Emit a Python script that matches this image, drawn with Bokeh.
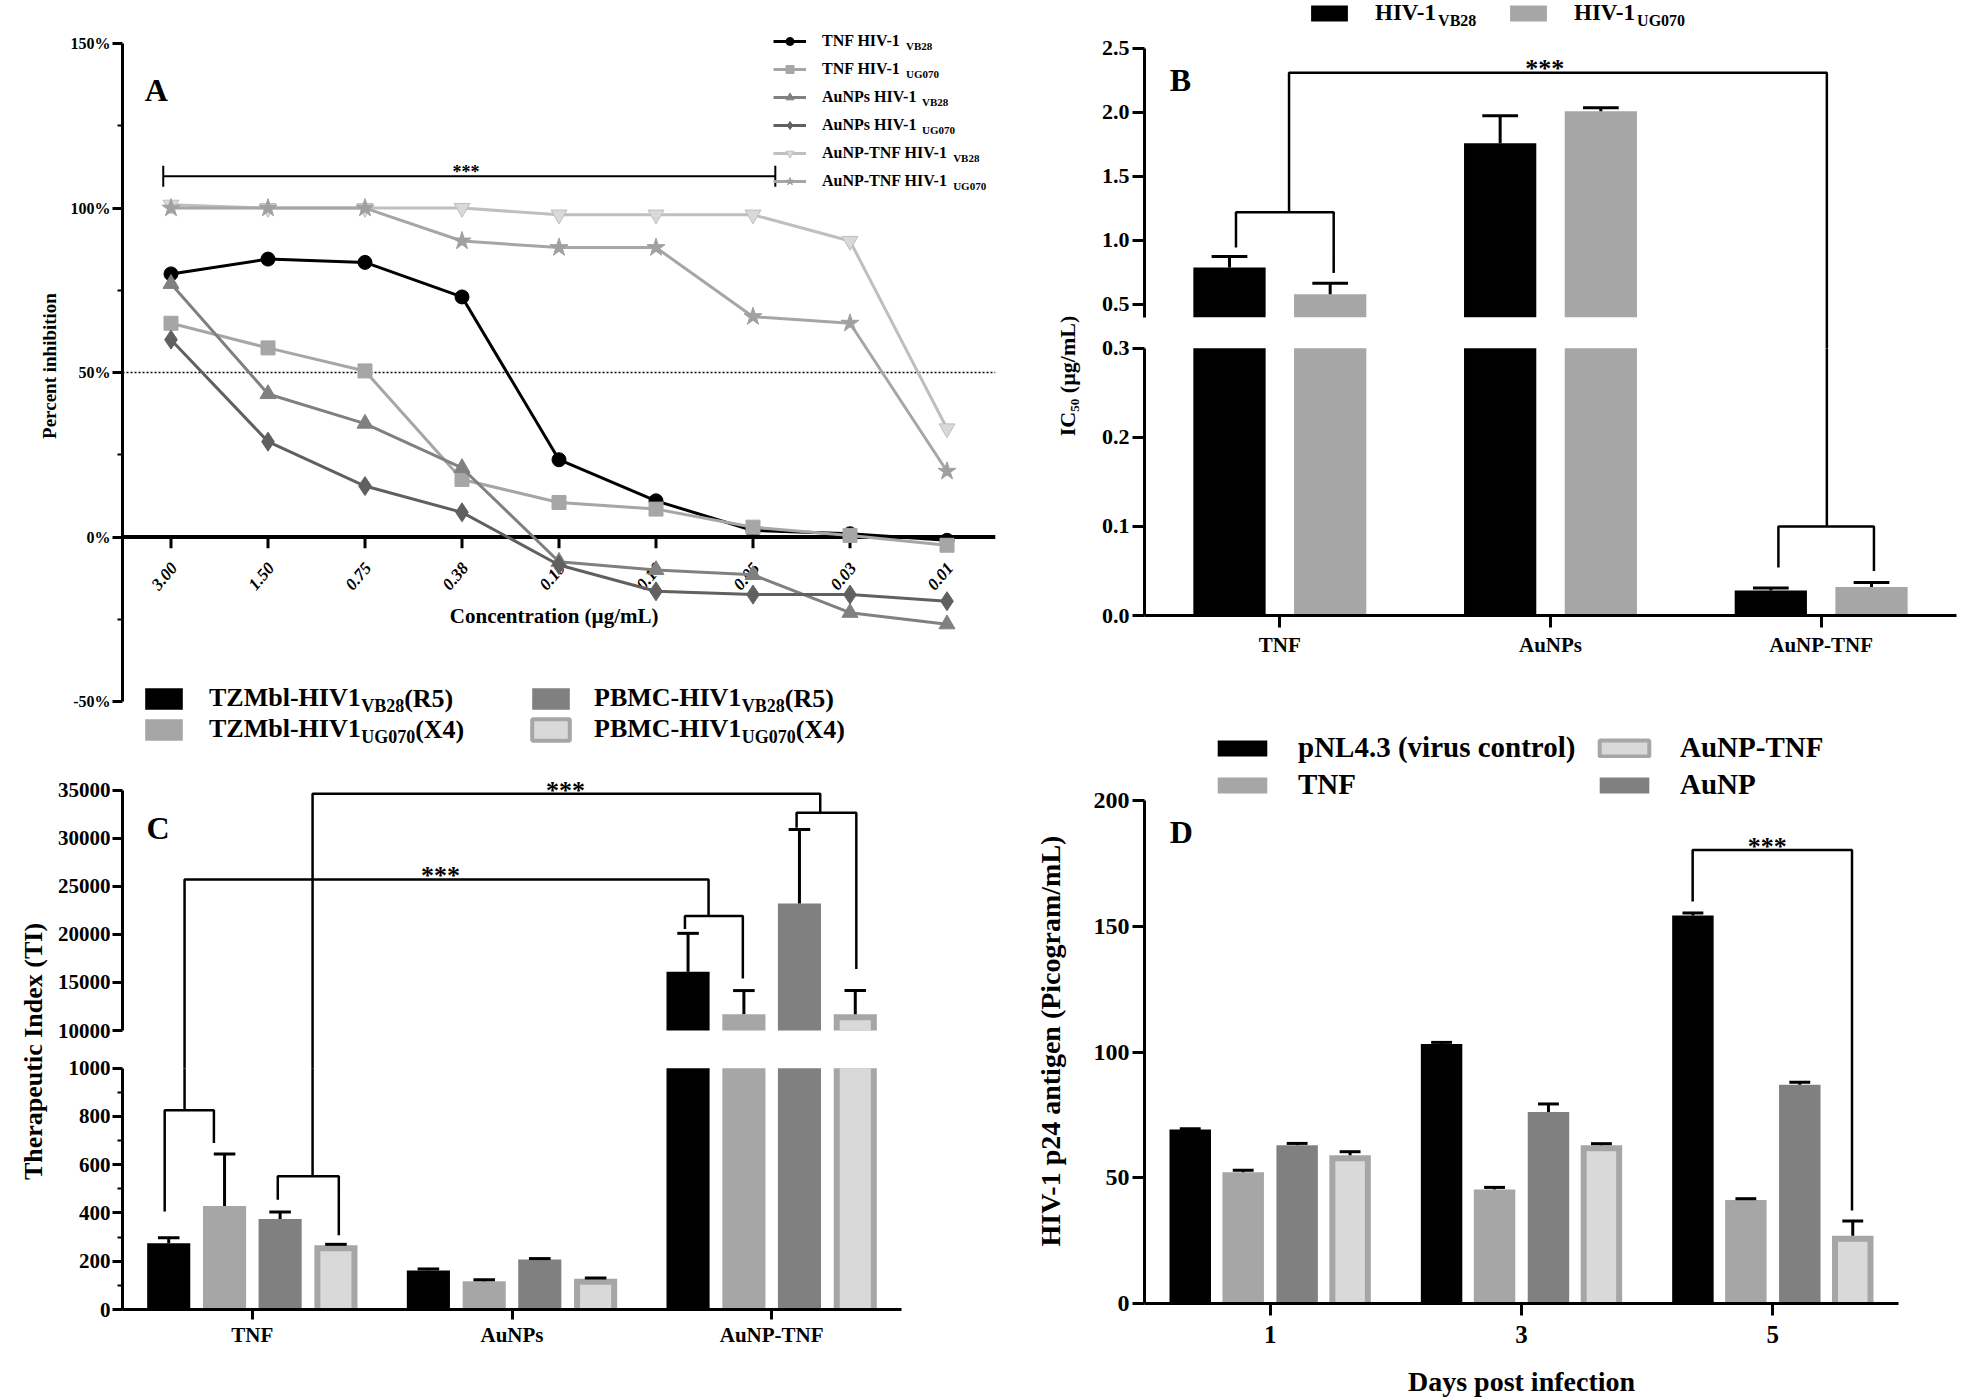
import math
import numpy as np
from bokeh.plotting import figure
from bokeh.models import (ColumnDataSource, FactorRange, Range1d, FixedTicker,
                          PrintfTickFormatter, Legend, LegendItem, Label, Span, Title)
from bokeh.layouts import row, column
from bokeh.transform import dodge
from bokeh.core.properties import value
from bokeh.embed import file_html
from bokeh.resources import INLINE

FONT = "Liberation Serif"

# ---------------- data ----------------
# Panel A : percent inhibition
conc_labels = ["3.00", "1.50", "0.75", "0.38", "0.19", "0.10", "0.05", "0.03", "0.01"]
tnf_vb28 = [80, 84.5, 83.5, 73, 23.5, 11, 2, 1, -1]
tnf_ug070 = [65, 57.5, 50.5, 17.5, 10.5, 8.5, 3, 0.5, -2.5]
aunps_vb28 = [77, 43.5, 34.5, 21, -7.5, -10, -11.5, -23, -26.5]
aunps_ug070 = [60, 29, 15.5, 7.5, -8.5, -16.5, -17.5, -17.5, -19.5]
aunptnf_vb28 = [101, 100, 100, 100, 98, 98, 98, 90, 33]
aunptnf_ug070 = [100, 100, 100, 90, 88, 88, 67, 65, 20]
a_yticks = [-50, 0, 50, 100, 150]
a_minor = [-25, 25, 75, 125]

# Panel B : IC50
treatments = ["TNF", "AuNPs", "AuNP-TNF"]
ic50_vb28 = [0.787, 1.758, 0.028]
ic50_vb28_sem = [0.086, 0.215, 0.003]
ic50_ug070 = [0.579, 2.008, 0.032]
ic50_ug070_sem = [0.086, 0.029, 0.005]

# Panel C : therapeutic index
ti_tzm_vb28 = [275, 162, 16100]
ti_tzm_vb28_sem = [22, 6, 4000]
ti_tzm_ug070 = [429, 117, 11700]
ti_tzm_ug070_sem = [215, 6, 2450]
ti_pbmc_vb28 = [375, 207, 23200]
ti_pbmc_vb28_sem = [29, 4, 7700]
ti_pbmc_ug070 = [266, 127, 11700]
ti_pbmc_ug070_sem = [4, 3, 2450]

# Panel D : p24 antigen
days = ["1", "3", "5"]
p24_pnl43 = [69.2, 103.3, 154.4]
p24_pnl43_sem = [0.3, 0.6, 1.0]
p24_tnf = [52.2, 45.4, 41.2]
p24_tnf_sem = [0.8, 0.8, 0.5]
p24_aunp = [63.0, 76.2, 87.0]
p24_aunp_sem = [0.7, 3.2, 1.0]
p24_aunptnf = [59.0, 63.0, 27.0]
p24_aunptnf_sem = [1.4, 0.6, 5.8]

BLACK, LGRAY, DGRAY, VLIGHT = "#000000", "#a6a6a6", "#808080", "#d9d9d9"

# Times-Bold advance widths (Liberation Serif is metric compatible) for subscript placement
TB = {' ': 250, '(': 333, ')': 333, '-': 333, '0': 500, '1': 500, '2': 500, '4': 500, '5': 500,
      '7': 500, '8': 500, 'A': 722, 'B': 667, 'C': 722, 'F': 611, 'G': 778, 'H': 778, 'I': 389,
      'M': 944, 'N': 722, 'P': 611, 'R': 722, 'T': 667, 'U': 722, 'V': 722, 'X': 722, 'Z': 667,
      'b': 556, 'l': 278, 's': 389, 'u': 556}


def tw(s, size):
    return sum(TB.get(c, 500) for c in s) * size / 1000.0


def fig(width, height, x_range, y_range, mb, x_axis=True):
    l, r, t, b = mb
    p = figure(width=width, height=height, x_range=x_range, y_range=y_range,
               output_backend="svg", toolbar_location=None,
               x_axis_location="below" if x_axis else None,
               min_border_left=l, min_border_right=r, min_border_top=t, min_border_bottom=b)
    p.background_fill_alpha = 0
    p.border_fill_alpha = 0
    p.outline_line_color = None
    p.grid.visible = False
    for ax in p.axis:
        ax.axis_line_width = 3
        ax.axis_line_color = "black"
        ax.major_tick_line_width = 3
        ax.minor_tick_line_width = 2
        ax.major_tick_in = 0
        ax.major_tick_out = 10
        ax.minor_tick_in = 0
        ax.minor_tick_out = 5
        ax.major_label_text_font = FONT
        ax.major_label_text_font_style = "bold"
        ax.major_label_text_color = "black"
        ax.axis_label_text_font = FONT
        ax.axis_label_text_font_style = "bold"
        ax.axis_label_text_color = "black"
    return p


def lab(p, x, y, text, size, align="center", baseline="middle", angle=0.0, units="data"):
    p.add_layout(Label(x=x, y=y, x_units=units, y_units=units, text=text,
                       text_font=FONT, text_font_style="bold", text_font_size=f"{size}px",
                       text_color="black", text_align=align, text_baseline=baseline, angle=angle))


def draw_bars(p, cats, series, offsets, width, cap, lo=None, hi_clip=None, upx=1.0, xpx=0.02):
    """upx: data units per pixel (y); xpx: category units per pixel (x)."""
    rs = []
    for (vals, sems, fill, framed), off in zip(series, offsets):
        v = np.array(vals, float)
        e = np.array(sems, float)
        if lo is not None:
            shown = v > lo
            top = np.where(shown, v, np.nan)
            inner_top = np.where(shown, v - 6 * upx, np.nan)
            bottom = lo
        elif hi_clip is not None:
            shown = v <= hi_clip
            top = np.minimum(v, hi_clip)
            inner_top = np.where(shown, v - 6 * upx, hi_clip)
            bottom = 0
        else:
            shown = np.ones(len(v), bool)
            top = v
            inner_top = v - 6 * upx
            bottom = 0
        src = ColumnDataSource(dict(cat=cats, top=top, inner_top=inner_top,
                                    val=np.where(shown, v, np.nan),
                                    hi=np.where(shown, v + e, np.nan)))
        xs = dodge("cat", off, range=p.x_range)
        if framed:
            p.vbar(x=xs, top="top", bottom=bottom, width=width, source=src,
                   fill_color=LGRAY, line_color=None)
            p.vbar(x=xs, top="inner_top", bottom=bottom, width=width - 12 * xpx, source=src,
                   fill_color=fill, line_color=None)
            # hidden renderer that only provides the framed swatch for the legend
            r = p.vbar(x=xs, top="top", bottom=bottom, width=width, source=src,
                       fill_color=fill, line_color=LGRAY, line_width=4, visible=False)
        else:
            r = p.vbar(x=xs, top="top", bottom=bottom, width=width, source=src,
                       fill_color=fill, line_color=None)
        p.segment(x0=xs, y0="val", x1=xs, y1="hi", source=src, line_color="black", line_width=3)
        p.segment(x0=dodge("cat", off - cap / 2, range=p.x_range), y0="hi",
                  x1=dodge("cat", off + cap / 2, range=p.x_range), y1="hi",
                  source=src, line_color="black", line_width=3)
        rs.append(r)
    return rs


def draw_brackets(p, paths, lw=2.5):
    p.multi_line(xs=[[q[0] for q in path] for path in paths],
                 ys=[[q[1] for q in path] for path in paths],
                 line_color="black", line_width=lw)


def add_legend(p, entries, loc, F, Fs, gw, gh, ih, sp, so, gap=False):
    items = [LegendItem(label=e[1], renderers=e[0]) for e in entries]
    p.add_layout(Legend(items=items, location=loc, orientation="vertical",
                        label_text_font=FONT, label_text_font_style="bold",
                        label_text_font_size=f"{F}px", label_text_color="black",
                        glyph_width=gw, glyph_height=gh, label_height=ih,
                        label_standoff=so, spacing=sp, padding=0, margin=0,
                        inactive_fill_alpha=0,
                        border_line_alpha=0, background_fill_alpha=0))
    n = len(entries)
    H = n * ih + (n - 1) * sp
    x0 = loc[0] + gw + so
    for i, (rs, main, sub, tail) in enumerate(entries):
        cy = loc[1] + H - i * (ih + sp) - ih / 2.0
        if sub:
            xs = x0 + tw(main + (" " if gap else ""), F)
            lab(p, xs, cy - 0.3 * F, sub, Fs, align="left", units="screen")
            if tail:
                lab(p, xs + tw(sub, Fs), cy, tail, F, align="left", units="screen")


# ================= Panel A =================
pA = fig(1007, 715, FactorRange(*conc_labels, range_padding=0), Range1d(-50, 154),
         (122, 12, 30, 14), x_axis=False)
pA.yaxis.ticker = FixedTicker(ticks=a_yticks, minor_ticks=a_minor)
pA.yaxis.bounds = (-50, 150)
pA.yaxis.formatter = PrintfTickFormatter(format="%d%%")
pA.yaxis.major_label_text_font_size = "16px"
pA.yaxis.major_label_standoff = 2
pA.yaxis.axis_label = "Percent inhibition"
pA.yaxis.axis_label_text_font_size = "19px"
pA.yaxis.axis_label_standoff = 8

pA.add_layout(Span(location=0, dimension="width", line_color="black", line_width=4, level="underlay"))
pA.add_layout(Span(location=50, dimension="width", line_color="black", line_width=1.5,
                   line_dash="2 2", level="underlay"))

srcA = ColumnDataSource(dict(conc=conc_labels, tnf_vb28=tnf_vb28, tnf_ug070=tnf_ug070,
                             aunps_vb28=aunps_vb28, aunps_ug070=aunps_ug070,
                             aunptnf_vb28=aunptnf_vb28, aunptnf_ug070=aunptnf_ug070))
pA.segment(x0="conc", y0=0, x1="conc", y1=-3.4, source=srcA, line_color="black", line_width=3)
pA.text(x=dodge("conc", 0.03, range=pA.x_range), y=-8.5, text="conc", source=srcA,
        angle=0.87, text_align="right", text_baseline="middle", text_font=value(FONT),
        text_font_style="bold italic", text_font_size="17px", text_color="black")

series_A = [
    ("tnf_vb28", "TNF HIV-1", "VB28", "circle", BLACK, BLACK, 14),
    ("tnf_ug070", "TNF HIV-1", "UG070", "square", LGRAY, LGRAY, 14),
    ("aunps_vb28", "AuNPs HIV-1", "VB28", "triangle", DGRAY, DGRAY, 16),
    ("aunps_ug070", "AuNPs HIV-1", "UG070", "diamond", "#606060", "#606060", 19),
    ("aunptnf_vb28", "AuNP-TNF HIV-1", "VB28", "inverted_triangle", "#bfbfbf", VLIGHT, 16),
    ("aunptnf_ug070", "AuNP-TNF HIV-1", "UG070", "star", LGRAY, "#a0a0a0", 19),
]
entriesA = []
for key, main, sub, marker, lc, mc, size in series_A:
    lr = pA.line("conc", key, source=srcA, line_color=lc, line_width=3)
    sr = pA.scatter("conc", key, source=srcA, marker=marker, size=size,
                    fill_color=mc, line_color=lc if marker == "inverted_triangle" else mc)
    entriesA.append(([lr, sr], main, sub, None))
add_legend(pA, entriesA, (651, 510), 16, 11, 33, 20, 20, 8, 16, gap=True)

draw_brackets(pA, [[(0.42, 109.7), (6.73, 109.7)],
                   [(0.42, 106.5), (0.42, 112.9)],
                   [(6.73, 106.5), (6.73, 112.9)]], lw=2)
lab(pA, 3.54, 111, "***", 18, baseline="alphabetic")
lab(pA, 0.23, 135.9, "A", 32, align="left", baseline="alphabetic")
lab(pA, 4.45, -24, "Concentration (µg/mL)", 21)

# ================= Panel B (broken axis) =================
pBu = fig(954, 348, FactorRange(*treatments, range_padding=0), Range1d(0.155, 2.874),
          (133, 5, 0, 0), x_axis=False)
pBl = fig(954, 554, FactorRange(*treatments, range_padding=0), Range1d(0, 0.5377),
          (133, 5, 0, 75))
pBl.margin = (-212, 0, 0, 0)
pBu.yaxis.ticker = FixedTicker(ticks=[0.5, 1.0, 1.5, 2.0, 2.5])
pBu.yaxis.bounds = (0.4, 2.5)
pBl.yaxis.ticker = FixedTicker(ticks=[0.0, 0.1, 0.2, 0.3])
pBl.yaxis.bounds = (0, 0.3)
for p in (pBu, pBl):
    p.yaxis.formatter = PrintfTickFormatter(format="%.1f")
    p.yaxis.major_label_text_font_size = "22px"
    p.yaxis.major_tick_out = 12
    p.yaxis.major_label_standoff = 3
pBl.yaxis.axis_label = "IC\u2085\u2080 (µg/mL)"
pBl.yaxis.axis_label_text_font_size = "22px"
pBl.yaxis.axis_label_standoff = 19
pBl.xaxis.major_label_text_font_size = "21px"
pBl.xaxis.major_tick_out = 12

seriesB = [(ic50_vb28, ic50_vb28_sem, BLACK, False), (ic50_ug070, ic50_ug070_sem, LGRAY, False)]
rBu = draw_bars(pBu, treatments, seriesB, [-0.186, 0.186], 0.267, 0.132, lo=0.4)
draw_bars(pBl, treatments, seriesB, [-0.186, 0.186], 0.267, 0.132, hi_clip=0.3)
bracketsB = [[(0.338, 0.945), (0.338, 1.22), (0.699, 1.22), (0.699, 0.745)],
             [(0.534, 1.22), (0.534, 2.31), (2.521, 2.31), (2.521, 0.1)]]
bracketsB_low = [[(2.521, 0.3), (2.521, 0.1)],
                 [(2.342, 0.054), (2.342, 0.1), (2.695, 0.1), (2.695, 0.05)]]
draw_brackets(pBu, bracketsB)
draw_brackets(pBl, bracketsB_low)
lab(pBu, 1.479, 2.34, "***", 26, baseline="alphabetic")
lab(pBu, 0.093, 2.255, "B", 32, align="left", baseline="alphabetic")
add_legend(pBu, [([rBu[0]], "HIV-1", "VB28", None)], (162, 322), 23, 16, 46, 20, 26, 0, 23)
add_legend(pBu, [([rBu[1]], "HIV-1", "UG070", None)], (361, 322), 23, 16, 46, 20, 26, 0, 23)

# ================= Panel C (broken axis) =================
pCu = fig(913, 392, FactorRange(*treatments, range_padding=0), Range1d(6050, 46800),
          (122, 12, 0, 0), x_axis=False)
pCu.margin = (-39, 0, 0, 0)
pCl = fig(913, 606, FactorRange(*treatments, range_padding=0), Range1d(0, 2138),
          (122, 12, 0, 90))
pCl.margin = (-275, 0, 0, 0)
pCu.yaxis.ticker = FixedTicker(ticks=[10000, 15000, 20000, 25000, 30000, 35000])
pCu.yaxis.bounds = (10000, 35000)
pCl.yaxis.ticker = FixedTicker(ticks=[0, 200, 400, 600, 800, 1000],
                               minor_ticks=[100, 300, 500, 700, 900])
pCl.yaxis.bounds = (0, 1000)
for p in (pCu, pCl):
    p.yaxis.formatter = PrintfTickFormatter(format="%d")
    p.yaxis.major_label_text_font_size = "21px"
    p.yaxis.major_label_standoff = 2
pCl.yaxis.axis_label = "Therapeutic Index (TI)"
pCl.yaxis.axis_label_text_font_size = "26px"
pCl.yaxis.axis_label_standoff = 18
pCl.xaxis.major_label_text_font_size = "21px"
pCl.xaxis.major_label_standoff = 3

seriesC = [(ti_tzm_vb28, ti_tzm_vb28_sem, BLACK, False),
           (ti_tzm_ug070, ti_tzm_ug070_sem, LGRAY, False),
           (ti_pbmc_vb28, ti_pbmc_vb28_sem, DGRAY, False),
           (ti_pbmc_ug070, ti_pbmc_ug070_sem, VLIGHT, True)]
offC = [-0.322, -0.107, 0.107, 0.322]
rCu = draw_bars(pCu, treatments, seriesC, offC, 0.166, 0.083, lo=10000,
                upx=104.0, xpx=1 / 259.7)
draw_bars(pCl, treatments, seriesC, offC, 0.166, 0.083, hi_clip=1000,
          upx=4.144, xpx=1 / 259.7)
bracketsC = [[(0.239, 826), (0.239, 25700), (2.257, 25700), (2.257, 21900)],
             [(2.166, 20540), (2.166, 21900), (2.389, 21900), (2.389, 15400)],
             [(0.732, 552), (0.732, 34600), (2.687, 34600), (2.687, 32640)],
             [(2.596, 31070), (2.596, 32640), (2.826, 32640), (2.826, 16400)]]
bracketsC_low = [[(0.1625, 406), (0.1625, 826), (0.352, 826), (0.352, 690)],
                 [(0.239, 826), (0.239, 1000)],
                 [(0.598, 455), (0.598, 552), (0.833, 552), (0.833, 308)],
                 [(0.732, 552), (0.732, 1000)]]
draw_brackets(pCu, bracketsC)
draw_brackets(pCl, bracketsC_low)
lab(pCu, 1.706, 35000, "***", 26, baseline="alphabetic")
lab(pCu, 1.2245, 26100, "***", 26, baseline="alphabetic")
lab(pCu, 0.092, 31070, "C", 32, align="left", baseline="alphabetic")
add_legend(pCu, [([rCu[0]], "TZMbl-HIV1", "VB28", "(R5)"),
                 ([rCu[1]], "TZMbl-HIV1", "UG070", "(X4)")],
           (18, 324), 26, 18, 47, 27, 30, 1, 22)
add_legend(pCu, [([rCu[2]], "PBMC-HIV1", "VB28", "(R5)"),
                 ([rCu[3]], "PBMC-HIV1", "UG070", "(X4)")],
           (405, 324), 26, 18, 47, 27, 30, 1, 20)

# ================= Panel D =================
pD = fig(896, 709, FactorRange(*days, range_padding=0), Range1d(0, 230), (133, 5, 35, 96))
pD.yaxis.ticker = FixedTicker(ticks=[0, 50, 100, 150, 200])
pD.yaxis.bounds = (0, 200)
pD.yaxis.formatter = PrintfTickFormatter(format="%d")
pD.yaxis.major_label_text_font_size = "24px"
pD.yaxis.major_tick_out = 12
pD.yaxis.major_label_standoff = 3
pD.add_layout(Title(text="HIV-1 p24 antigen (Picogram/mL)", align="left", offset=57,
                    standoff=50, text_font=FONT, text_font_style="bold",
                    text_font_size="28px", text_color="black"), "left")
pD.xaxis.major_label_text_font_size = "25px"
pD.xaxis.major_tick_out = 12
pD.xaxis.major_label_standoff = 10
pD.xaxis.axis_label = "Days post infection"
pD.xaxis.axis_label_text_font_size = "28px"
pD.xaxis.axis_label_standoff = 20

seriesD = [(p24_pnl43, p24_pnl43_sem, BLACK, False),
           (p24_tnf, p24_tnf_sem, LGRAY, False),
           (p24_aunp, p24_aunp_sem, DGRAY, False),
           (p24_aunptnf, p24_aunptnf_sem, VLIGHT, True)]
rD = draw_bars(pD, days, seriesD, [-0.318, -0.1073, 0.1073, 0.318], 0.165, 0.083,
               upx=0.398, xpx=1 / 252.6)
draw_brackets(pD, [[(2.181, 160), (2.181, 180.5), (2.815, 180.5), (2.815, 37)]])
lab(pD, 2.478, 182, "***", 26, baseline="alphabetic")
lab(pD, 0.1, 187.6, "D", 32, align="left", baseline="alphabetic")
add_legend(pD, [([rD[0]], "pNL4.3 (virus control)", None, None),
                ([rD[1]], "TNF", None, None)],
           (67, 502), 29, 20, 62, 20, 32, 4, 25)
add_legend(pD, [([rD[3]], "AuNP-TNF", None, None),
                ([rD[2]], "AuNP", None, None)],
           (449, 502), 29, 20, 62, 20, 32, 4, 25)

layout = row(column(pA, pCu, pCl), column(pBu, pBl, pD))
open("out.html", "w").write(file_html(layout, INLINE, "HIV inhibition panels"))
